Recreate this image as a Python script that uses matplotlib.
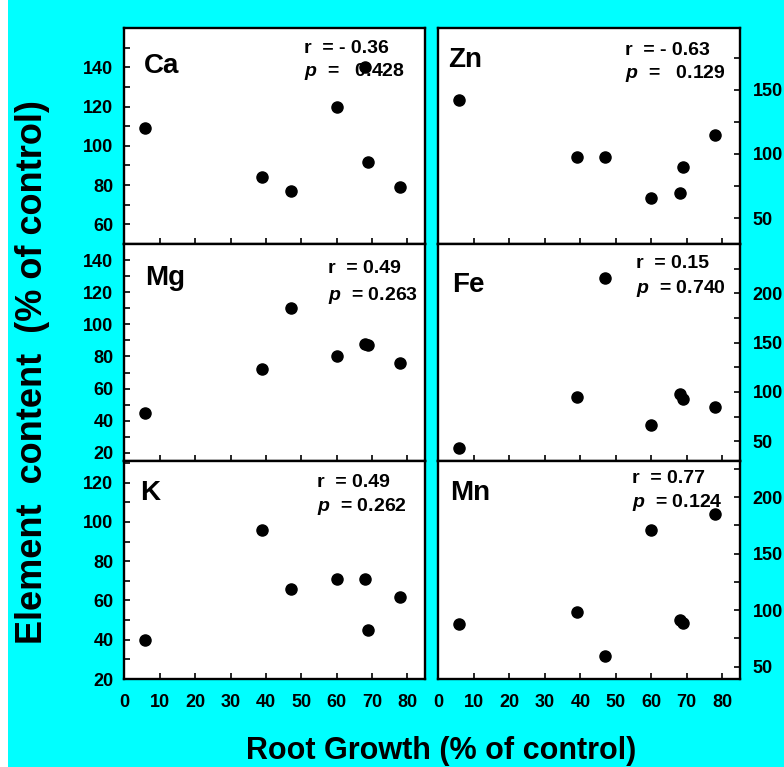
import matplotlib
matplotlib.use('Agg')
import matplotlib.pyplot as plt
from matplotlib.patches import Rectangle
from matplotlib.ticker import MultipleLocator

plt.rcParams['font.family'] = ['Liberation Sans', 'DejaVu Sans']
plt.rcParams['font.weight'] = 'bold'
plt.rcParams['mathtext.fontset'] = 'custom'
plt.rcParams['mathtext.rm'] = 'Liberation Sans:bold'
plt.rcParams['mathtext.it'] = 'Liberation Sans:italic:bold'

# root growth (% of control), same for every panel
root = [5.8, 39, 47, 60, 68, 69, 78]

# element content (% of control)
ca = [109, 84, 77, 120, 140, 92, 79]
mg = [45, 72, 110, 80, 88, 87, 76]
k = [40, 96, 66, 71, 71, 45, 62]
zn = [142, 98, 98, 66, 70, 90, 115]
fe = [43, 95, 216, 66, 98, 93, 85]
mn = [88, 98, 59, 171, 91, 89, 185]

names = ['Ca', 'Mg', 'K', 'Zn', 'Fe', 'Mn']
r_text = ['r  = - 0.36', 'r  = 0.49', 'r  = 0.49', 'r  = - 0.63', 'r  = 0.15', 'r  = 0.77']
p_text = ['$p$  =   0.428', '$p$  = 0.263', '$p$  = 0.262', '$p$  =   0.129', '$p$  = 0.740', '$p$  = 0.124']

fig = plt.figure(figsize=(7.84, 7.67), dpi=100, facecolor='#00ffff')
# thin white strip on the left edge
fig.patches.append(Rectangle((0, 0), 8 / 784, 1, transform=fig.transFigure,
                             facecolor='white', edgecolor='none', zorder=-1))

# panel layout: [left, bottom, width, height]
lefts = [0.1588, 0.5593]
widths = [0.3833, 0.3846]
rows = [(0.6819, 0.2816), (0.3990, 0.2829), (0.1147, 0.2842)]

values = [ca, mg, k, zn, fe, mn]
ylims = [(50, 160), (15, 150), (20, 131), (30, 198), (30, 250), (39, 232)]
majors = [20, 20, 20, 50, 50, 50]
minors = [10, 10, 10, 25, 25, 25]
label_pos = [(0.063, 0.883), (0.068, 0.903), (0.052, 0.913),
             (0.033, 0.913), (0.044, 0.872), (0.040, 0.913)]
rp_pos = [(0.597, 0.883, 0.778), (0.676, 0.865, 0.742), (0.640, 0.882, 0.772),
          (0.619, 0.875, 0.767), (0.655, 0.888, 0.773), (0.641, 0.898, 0.788)]

for i in range(6):
    col = i // 3
    row = i % 3
    ax = fig.add_axes([lefts[col], rows[row][0], widths[col], rows[row][1]])
    ax.set_facecolor('white')
    ax.plot(root, values[i], 'o', color='black', ms=8, zorder=4, clip_on=False)
    ax.set_xlim(0, 85)
    ax.set_ylim(*ylims[i])
    ax.xaxis.set_major_locator(MultipleLocator(10))
    ax.yaxis.set_minor_locator(MultipleLocator(minors[i]))
    for s in ax.spines.values():
        s.set_linewidth(1.7)
    ax.tick_params(which='both', direction='in', width=1.2, length=4.5, labelsize=13)
    ax.tick_params(axis='x', pad=11, labelbottom=(row == 2))
    if col == 0:
        ax.tick_params(axis='y', which='both', left=True, right=False, pad=8)
        ax.set_yticks([t for t in range(0, 160, majors[i]) if ylims[i][0] <= t < ylims[i][1] - 5
                       and t != 50])
    else:
        ax.yaxis.tick_right()
        ax.tick_params(axis='y', which='both', left=False, right=True, pad=9)
        ax.set_yticks([t for t in range(50, 250, 50) if t < ylims[i][1] - 5])
    for lab in ax.get_xticklabels() + ax.get_yticklabels():
        lab.set_fontweight('bold')
    ax.text(label_pos[i][0], label_pos[i][1], names[i], transform=ax.transAxes,
            fontsize=20, fontweight='bold', va='top', ha='left')
    x, yr, yp = rp_pos[i]
    ax.text(x, yr, r_text[i], transform=ax.transAxes, fontsize=14,
            fontweight='bold', va='baseline', ha='left', zorder=3)
    ax.text(x, yp, p_text[i], transform=ax.transAxes, fontsize=14,
            fontweight='bold', va='baseline', ha='left', zorder=3)

fig.text(0.042, 0.515, 'Element  content  (% of control)', rotation=90,
         fontsize=26, fontweight='bold', ha='center', va='center')
fig.text(0.5625, 0.021, 'Root Growth (% of control)', fontsize=22,
         fontweight='bold', ha='center', va='center')

fig.savefig('out.png', dpi=100, facecolor=fig.get_facecolor())
